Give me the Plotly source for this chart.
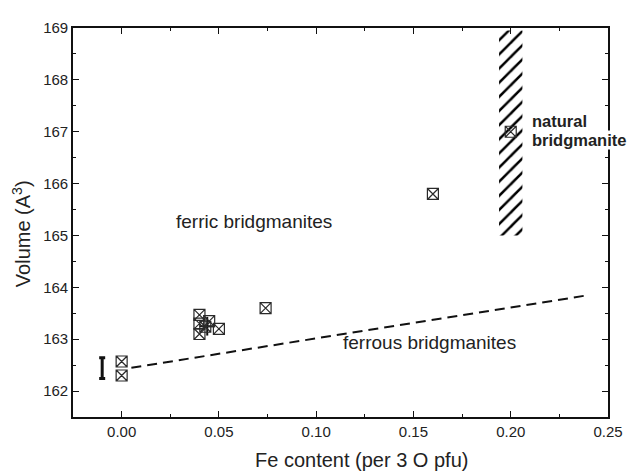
import plotly.graph_objects as go

# Data
fe_content = [0.0, 0.0, 0.040, 0.040, 0.040, 0.045, 0.050, 0.043, 0.074, 0.16, 0.20]
volume = [162.57, 162.30, 163.47, 163.30, 163.10, 163.35, 163.20, 163.24, 163.60, 165.80, 167.00]

err_pt_x = [0.044]
err_pt_y = [163.25]
err_pt_ex = [0.004]
err_pt_ey = [0.18]

ref_bar_x = [-0.01]
ref_bar_y = [162.44]
ref_bar_err = [0.20]

dash_x = [0.005, 0.24]
dash_y = [162.45, 163.85]

natural_x = [0.194, 0.206, 0.206, 0.194, 0.194]
natural_y = [165.0, 165.0, 168.95, 168.95, 165.0]

x_ticks = [0.00, 0.05, 0.10, 0.15, 0.20, 0.25]
y_ticks = [162, 163, 164, 165, 166, 167, 168, 169]

FONT = "Liberation Sans, Arial, sans-serif"
INK = "#111111"
TXT = "#222222"

fig = go.Figure()

# Hatched natural bridgmanite range
fig.add_trace(go.Scatter(
    x=natural_x, y=natural_y, mode="lines", fill="toself",
    line=dict(width=0, color="rgba(0,0,0,0)"),
    fillcolor="rgba(0,0,0,0)",
    fillpattern=dict(shape="/", fgcolor="#000000", fgopacity=1,
                     bgcolor="rgba(255,255,255,0)", size=10, solidity=0.25),
    hoverinfo="skip", showlegend=False))

# Dashed ferrous/ferric boundary
fig.add_trace(go.Scatter(
    x=dash_x, y=dash_y, mode="lines",
    line=dict(color=INK, width=2, dash="10px,6px"),
    showlegend=False))

# Error bars on one cluster point
fig.add_trace(go.Scatter(
    x=err_pt_x, y=err_pt_y, mode="markers",
    marker=dict(size=1, color=INK),
    error_x=dict(type="data", array=err_pt_ex, color=INK, thickness=2, width=0),
    error_y=dict(type="data", array=err_pt_ey, color=INK, thickness=2, width=0),
    showlegend=False))

# Reference error bar
fig.add_trace(go.Scatter(
    x=ref_bar_x, y=ref_bar_y, mode="markers",
    marker=dict(size=1, color="rgba(0,0,0,0)"),
    error_y=dict(type="data", array=ref_bar_err, color=INK, thickness=3, width=3),
    showlegend=False))

# Data points
fig.add_trace(go.Scatter(
    x=fe_content, y=volume, mode="markers",
    marker=dict(symbol="square-x-open", size=11, color="#2a2a2a",
                line=dict(width=1.2, color="#2a2a2a")),
    showlegend=False))

axis_common = dict(
    showline=True, linecolor=INK, linewidth=1.6, mirror="allticks",
    ticks="inside", ticklen=6, tickwidth=1.4, tickcolor=INK,
    showgrid=False, zeroline=False,
    tickfont=dict(family=FONT, size=15, color=TXT),
)

fig.update_layout(
    width=630, height=464,
    margin=dict(l=65, r=30, t=11, b=55),
    paper_bgcolor="white", plot_bgcolor="white",
    font=dict(family=FONT, color=TXT),
    xaxis=dict(
        range=[-0.025, 0.25], tickvals=x_ticks, tickformat=".2f",
        minor=dict(dtick=0.025, tick0=0, ticks="inside", ticklen=3, tickwidth=1.2, tickcolor=INK),
        **axis_common),
    yaxis=dict(
        range=[161.5, 169.0], tickvals=y_ticks,
        minor=dict(dtick=0.5, tick0=161.5, ticks="inside", ticklen=3, tickwidth=1.2, tickcolor=INK),
        **axis_common),
    annotations=[
        dict(x=0.54, y=0, xref="paper", yref="paper", yanchor="middle", yshift=-43,
             text="Fe content (per 3 O pfu)", showarrow=False,
             font=dict(family=FONT, size=20, color=TXT)),
        dict(x=0, y=0.47, xref="paper", yref="paper", xanchor="center", xshift=-52,
             text="Volume (A<sup>3</sup>)", textangle=-90, showarrow=False,
             font=dict(family=FONT, size=20, color=TXT)),
        dict(x=0.068, y=165.27, xref="x", yref="y", text="ferric bridgmanites",
             showarrow=False, font=dict(family=FONT, size=19, color=TXT)),
        dict(x=0.158, y=162.94, xref="x", yref="y", text="ferrous bridgmanites",
             showarrow=False, font=dict(family=FONT, size=19, color=TXT)),
        dict(x=0.2105, y=167.21, xref="x", yref="y", xanchor="left",
             text="<b>natural</b>", align="left",
             showarrow=False, bgcolor="white", borderpad=0,
             font=dict(family=FONT, size=16.5, color=TXT)),
        dict(x=0.2105, y=166.84, xref="x", yref="y", xanchor="left",
             text="<b>bridgmanite</b>", align="left",
             showarrow=False, bgcolor="white", borderpad=0,
             font=dict(family=FONT, size=16.5, color=TXT)),
    ],
)

fig.write_html("out.html")
